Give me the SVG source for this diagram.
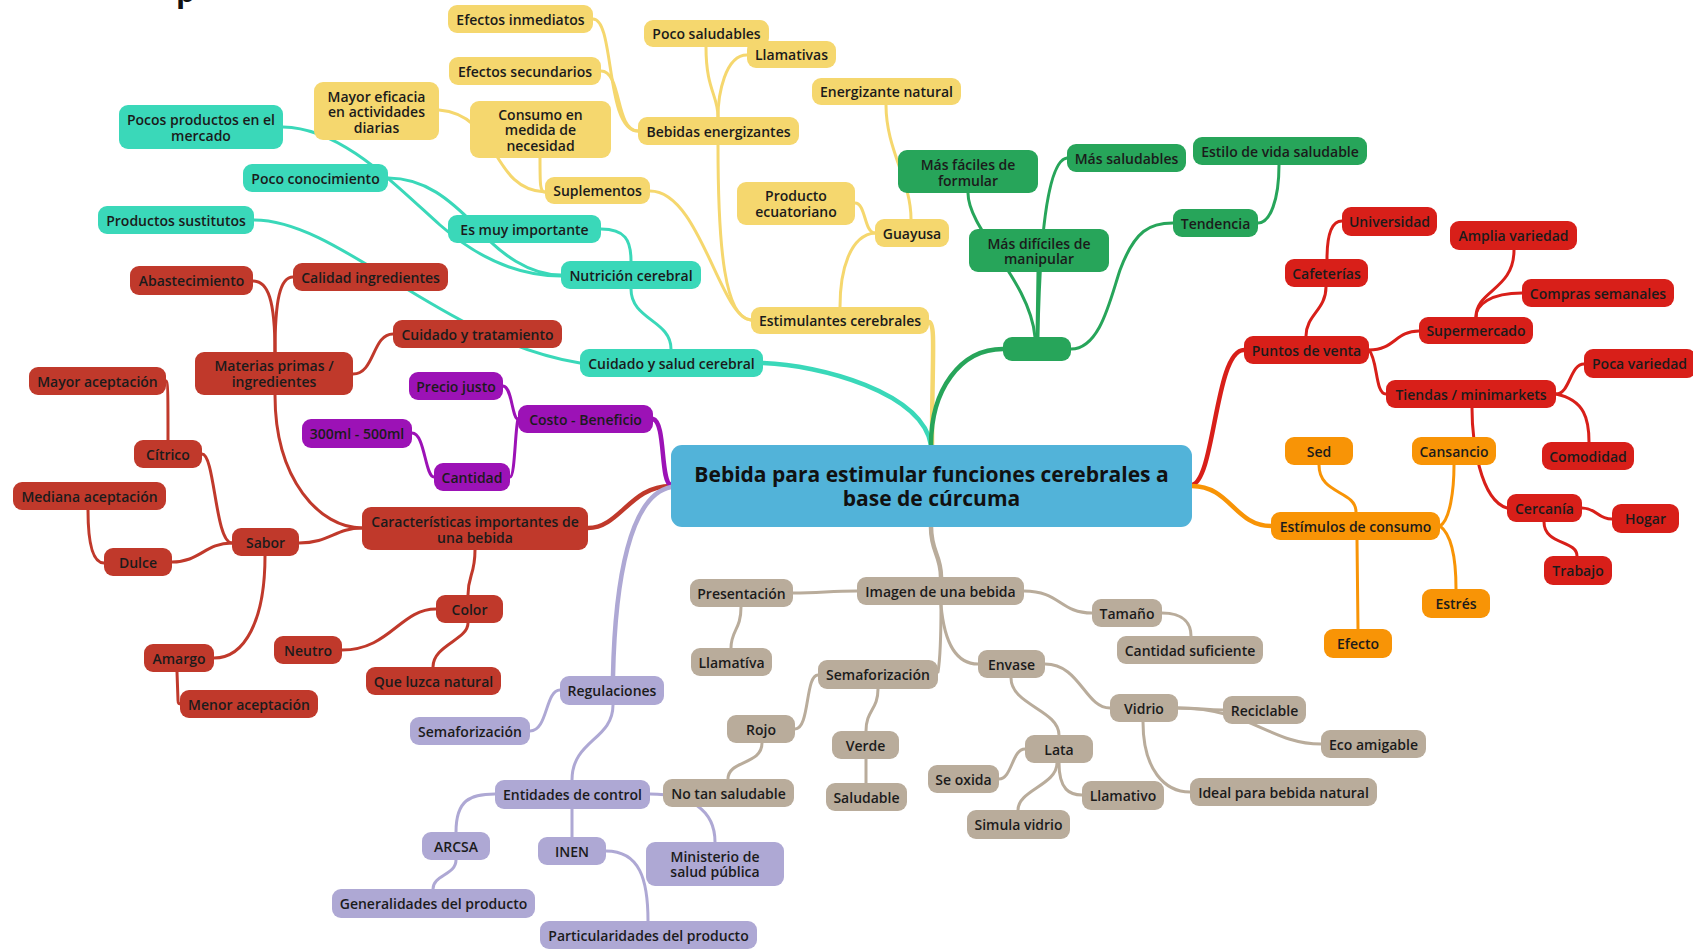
<svg xmlns="http://www.w3.org/2000/svg" width="1693" height="949" viewBox="0 0 1693 949">
<style>
text{font-family:"Open Sans","Noto Sans","DejaVu Sans",sans-serif;font-size:14px;font-weight:600;fill:#1b1b1b;text-anchor:middle;dominant-baseline:central}
rect{rx:9px;ry:9px}
.c path{fill:none;stroke-width:3;stroke-linecap:round}
.c path.m{stroke-width:4.5}
.teal rect{fill:#3ad8b9}.yel rect{fill:#f5d76e}.grn rect{fill:#27a55a}.red rect{fill:#d81f19}.org rect{fill:#f89406}.brn rect{fill:#c0392b}.pur rect{fill:#9c12b6}.lil rect{fill:#aea8d4}.bei rect{fill:#b9ac9b}
.st{stroke:#3ad8b9}.sy{stroke:#f5d76e}.sg{stroke:#27a55a}.sr{stroke:#d81f19}.so{stroke:#f89406}.sb{stroke:#c0392b}.sp{stroke:#9c12b6}.sl{stroke:#aea8d4}.se{stroke:#b9ac9b}
.root rect{fill:#52b3d9;rx:11px;ry:11px}
.root text{font-size:21px;font-weight:700;fill:#111}
.title{font-size:30px;font-weight:700;fill:#111;text-anchor:start;dominant-baseline:auto}
</style>
<rect width="1693" height="949" fill="#ffffff" style="rx:0;ry:0"/>
<text class="title" x="176" y="2">p</text>
<g id="connectors" class="c">
<path class="m sy" d="M929,322 C936,322 932,360 932,445"/>
<path class="m st" d="M763,363 C820,365 922,392 931,445"/>
<path class="m sg" d="M931,445 C931,390 960,349 1003,349"/>
<path class="m sr" d="M1192,485 C1215,480 1215,350 1244,350"/>
<path class="m so" d="M1192,486 C1230,486 1235,526 1271,526"/>
<path class="m se" d="M931,527 C931,552 941,555 941,577"/>
<path class="m sb" d="M671,486 C630,486 620,528 588,528"/>
<path class="m sp" d="M653,419 C666,422 660,483 671,485"/>
<path class="m sl" d="M671,487 C630,495 615,580 613,676"/>
<path class="sy" d="M650,191 C700,191 720,318 751,320"/>
<path class="sy" d="M718,145 C718,250 725,318 751,320"/>
<path class="sy" d="M875,233 C850,235 840,270 840,307"/>
<path class="sy" d="M886,105 C886,150 911,180 911,219"/>
<path class="sy" d="M855,203 C866,203 864,233 875,233"/>
<path class="sy" d="M593,19 C615,19 605,131 638,131"/>
<path class="sy" d="M601,71 C622,71 615,131 638,131"/>
<path class="sy" d="M706,47 C706,90 718,95 718,117"/>
<path class="sy" d="M747,55 C725,55 718,95 718,117"/>
<path class="sy" d="M439,110 C500,115 490,190 545,192"/>
<path class="sy" d="M540,158 C540,185 540,192 545,192"/>
<path class="st" d="M631,289 C631,320 671,320 671,349"/>
<path class="st" d="M254,220 C340,220 440,340 580,363"/>
<path class="st" d="M601,229 C625,229 631,240 631,261"/>
<path class="st" d="M283,127 C340,128 390,180 440,225 C480,260 520,276 561,276"/>
<path class="st" d="M388,178 C425,178 450,200 475,225 C500,255 530,275 561,275"/>
<path class="sb" d="M275,395 C275,480 320,528 362,528"/>
<path class="sb" d="M299,543 C330,543 335,528 362,528"/>
<path class="sb" d="M475,550 C475,575 468,575 468,595"/>
<path class="sb" d="M253,281 C268,281 275,300 275,352"/>
<path class="sb" d="M293,277 C280,277 275,300 275,352"/>
<path class="sb" d="M353,374 C375,374 372,334 393,334"/>
<path class="sb" d="M202,454 C215,454 215,543 232,543"/>
<path class="sb" d="M172,562 C200,562 205,543 232,543"/>
<path class="sb" d="M265,556 C265,620 245,658 214,658"/>
<path class="sb" d="M166,381 C168,381 168,400 168,440"/>
<path class="sb" d="M88,510 C88,550 95,563 104,563"/>
<path class="sb" d="M177,672 L178,700 C178,704 179,704 182,704"/>
<path class="sb" d="M342,650 C390,650 400,609 436,609"/>
<path class="sb" d="M433,667 C433,645 468,640 468,623"/>
<path class="sp" d="M503,386 C512,386 512,419 518,419"/>
<path class="sp" d="M510,477 C515,477 515,430 518,419"/>
<path class="sp" d="M412,433 C425,433 425,477 434,477"/>
<path class="sl" d="M530,731 C548,731 545,690 560,690"/>
<path class="sl" d="M572,780 C572,740 613,740 613,705"/>
<path class="sl" d="M456,832 C456,800 470,794 495,794"/>
<path class="sl" d="M572,837 L572,809"/>
<path class="sl" d="M650,794 C690,794 715,810 715,842"/>
<path class="sl" d="M456,860 C456,875 433,875 433,889"/>
<path class="sl" d="M606,851 C640,851 648,880 648,921"/>
<path class="se" d="M793,593 C820,593 830,591 857,591"/>
<path class="se" d="M1024,591 C1060,591 1060,613 1092,613"/>
<path class="se" d="M941,605 C941,640 940,660 938,672"/>
<path class="se" d="M941,605 C945,650 960,664 978,664"/>
<path class="se" d="M741,607 C741,630 731,630 731,648"/>
<path class="se" d="M1162,613 C1185,613 1191,625 1191,636"/>
<path class="se" d="M795,729 C810,729 805,675 818,675"/>
<path class="se" d="M878,689 C878,710 866,710 866,731"/>
<path class="se" d="M866,759 L866,783"/>
<path class="se" d="M762,743 C762,765 728,760 728,779"/>
<path class="se" d="M1011,678 C1011,705 1059,710 1059,735"/>
<path class="se" d="M1045,664 C1080,664 1085,708 1110,708"/>
<path class="se" d="M999,779 C1012,779 1012,749 1025,749"/>
<path class="se" d="M1059,763 C1059,790 1070,795 1082,795"/>
<path class="se" d="M1057,763 C1057,785 1018,790 1018,810"/>
<path class="se" d="M1178,708 C1200,708 1205,710 1223,710"/>
<path class="se" d="M1178,708 C1250,708 1270,744 1321,744"/>
<path class="se" d="M1143,722 C1143,770 1165,792 1190,792"/>
<path class="sg" d="M1038,272 L1037,337"/>
<path class="sg" d="M968,193 C968,230 1030,280 1035,337"/>
<path class="sg" d="M1067,158 C1050,160 1040,220 1038,337"/>
<path class="sg" d="M1071,349 C1100,349 1110,300 1120,270 C1135,230 1150,223 1173,223"/>
<path class="sg" d="M1279,165 C1279,200 1270,223 1258,223"/>
<path class="sr" d="M1326,287 C1326,310 1306,315 1306,336"/>
<path class="sr" d="M1369,350 C1395,350 1395,331 1419,331"/>
<path class="sr" d="M1369,350 C1378,360 1375,394 1386,394"/>
<path class="sr" d="M1342,221 C1330,221 1327,240 1327,259"/>
<path class="sr" d="M1514,250 C1514,290 1476,290 1476,317"/>
<path class="sr" d="M1522,293 C1490,293 1476,305 1476,317"/>
<path class="sr" d="M1556,394 C1570,394 1570,364 1584,364"/>
<path class="sr" d="M1556,394 C1585,400 1589,420 1589,442"/>
<path class="sr" d="M1472,408 C1472,440 1480,500 1507,508"/>
<path class="sr" d="M1582,508 C1597,508 1597,519 1612,519"/>
<path class="sr" d="M1544,522 C1544,545 1577,540 1577,556"/>
<path class="so" d="M1319,465 C1319,495 1356,490 1356,512"/>
<path class="so" d="M1440,526 C1450,520 1454,490 1454,465"/>
<path class="so" d="M1440,526 C1452,535 1456,560 1456,589"/>
<path class="so" d="M1357,540 L1358,629"/>
</g>

<g id="root" class="root"><rect x="671" y="445" width="521" height="82"/><text x="931.5" y="474">Bebida para estimular funciones cerebrales a</text><text x="931.5" y="498">base de cúrcuma</text></g>

<g id="n_pocos" class="teal"><rect x="119" y="105" width="164" height="44"/><text x="201" y="119">Pocos productos en el</text><text x="201" y="135">mercado</text></g>
<g id="n_pococon" class="teal"><rect x="243" y="164" width="145" height="28"/><text x="315.5" y="178">Poco conocimiento</text></g>
<g id="n_sustitutos" class="teal"><rect x="98" y="206" width="156" height="28"/><text x="176" y="220">Productos sustitutos</text></g>
<g id="n_esmuy" class="teal"><rect x="448" y="215" width="153" height="28"/><text x="524.5" y="229">Es muy importante</text></g>
<g id="n_nutricion" class="teal"><rect x="561" y="261" width="140" height="28"/><text x="631" y="275">Nutrición cerebral</text></g>
<g id="n_cuidadosalud" class="teal"><rect x="580" y="349" width="183" height="28"/><text x="671.5" y="363">Cuidado y salud cerebral</text></g>

<g id="n_mayor" class="yel"><rect x="314" y="82" width="125" height="58"/><text x="376.5" y="96">Mayor eficacia</text><text x="376.5" y="111.5">en actividades</text><text x="376.5" y="127">diarias</text></g>
<g id="n_efinm" class="yel"><rect x="448" y="5" width="145" height="28"/><text x="520.5" y="19">Efectos inmediatos</text></g>
<g id="n_pocosal" class="yel"><rect x="644" y="20" width="125" height="27"/><text x="706.5" y="33.5">Poco saludables</text></g>
<g id="n_llamativas" class="yel"><rect x="747" y="41" width="89" height="27"/><text x="791.5" y="54.5">Llamativas</text></g>
<g id="n_efsec" class="yel"><rect x="449" y="57" width="152" height="28"/><text x="525" y="71">Efectos secundarios</text></g>
<g id="n_consumo" class="yel"><rect x="470" y="101" width="141" height="57"/><text x="540.5" y="114">Consumo en</text><text x="540.5" y="129.5">medida de</text><text x="540.5" y="145">necesidad</text></g>
<g id="n_bebidas" class="yel"><rect x="638" y="117" width="161" height="28"/><text x="718.5" y="131">Bebidas energizantes</text></g>
<g id="n_energ" class="yel"><rect x="812" y="78" width="149" height="27"/><text x="886.5" y="91.5">Energizante natural</text></g>
<g id="n_suplementos" class="yel"><rect x="545" y="177" width="105" height="27"/><text x="597.5" y="190.5">Suplementos</text></g>
<g id="n_producto" class="yel"><rect x="737" y="182" width="118" height="43"/><text x="796" y="195.5">Producto</text><text x="796" y="211">ecuatoriano</text></g>
<g id="n_guayusa" class="yel"><rect x="875" y="219" width="74" height="28"/><text x="912" y="233">Guayusa</text></g>
<g id="n_estimulantes" class="yel"><rect x="751" y="307" width="178" height="27"/><text x="840" y="320.5">Estimulantes cerebrales</text></g>

<g id="n_faciles" class="grn"><rect x="898" y="150" width="140" height="43"/><text x="968" y="164">Más fáciles de</text><text x="968" y="180">formular</text></g>
<g id="n_massal" class="grn"><rect x="1067" y="144" width="119" height="28"/><text x="1126.5" y="158">Más saludables</text></g>
<g id="n_estilo" class="grn"><rect x="1193" y="137" width="174" height="28"/><text x="1280" y="151">Estilo de vida saludable</text></g>
<g id="n_dificiles" class="grn"><rect x="969" y="229" width="140" height="43"/><text x="1039" y="243">Más difíciles de</text><text x="1039" y="258.5">manipular</text></g>
<g id="n_tendencia" class="grn"><rect x="1173" y="209" width="85" height="28"/><text x="1215.5" y="223">Tendencia</text></g>
<g id="n_green" class="grn"><rect x="1003" y="337" width="68" height="24"/></g>

<g id="n_universidad" class="red"><rect x="1342" y="207" width="95" height="29"/><text x="1389.5" y="221.5">Universidad</text></g>
<g id="n_amplia" class="red"><rect x="1450" y="221" width="127" height="29"/><text x="1513.5" y="235.5">Amplia variedad</text></g>
<g id="n_cafeterias" class="red"><rect x="1285" y="259" width="83" height="28"/><text x="1326.5" y="273">Cafeterías</text></g>
<g id="n_compras" class="red"><rect x="1522" y="279" width="152" height="28"/><text x="1598" y="293">Compras semanales</text></g>
<g id="n_super" class="red"><rect x="1419" y="317" width="114" height="27"/><text x="1476" y="330.5">Supermercado</text></g>
<g id="n_puntos" class="red"><rect x="1244" y="336" width="125" height="28"/><text x="1306.5" y="350">Puntos de venta</text></g>
<g id="n_tiendas" class="red"><rect x="1386" y="380" width="170" height="28"/><text x="1471" y="394">Tiendas / minimarkets</text></g>
<g id="n_pocavar" class="red"><rect x="1584" y="349" width="112" height="29"/><text x="1639.5" y="363.5">Poca variedad</text></g>
<g id="n_comodidad" class="red"><rect x="1542" y="442" width="92" height="28"/><text x="1588" y="456">Comodidad</text></g>
<g id="n_cercania" class="red"><rect x="1507" y="494" width="75" height="28"/><text x="1544.5" y="508">Cercanía</text></g>
<g id="n_hogar" class="red"><rect x="1612" y="504" width="67" height="29"/><text x="1645.5" y="518.5">Hogar</text></g>
<g id="n_trabajo" class="red"><rect x="1544" y="556" width="68" height="29"/><text x="1578" y="570.5">Trabajo</text></g>

<g id="n_sed" class="org"><rect x="1285" y="437" width="68" height="28"/><text x="1319" y="451">Sed</text></g>
<g id="n_cansancio" class="org"><rect x="1412" y="437" width="84" height="28"/><text x="1454" y="451">Cansancio</text></g>
<g id="n_estimulos" class="org"><rect x="1271" y="512" width="169" height="28"/><text x="1355.5" y="526">Estímulos de consumo</text></g>
<g id="n_estres" class="org"><rect x="1422" y="589" width="68" height="29"/><text x="1456" y="603.5">Estrés</text></g>
<g id="n_efecto" class="org"><rect x="1324" y="629" width="68" height="29"/><text x="1358" y="643.5">Efecto</text></g>

<g id="n_abast" class="brn"><rect x="130" y="266" width="123" height="29"/><text x="191.5" y="280.5">Abastecimiento</text></g>
<g id="n_calidad" class="brn"><rect x="293" y="263" width="155" height="28"/><text x="370.5" y="277">Calidad ingredientes</text></g>
<g id="n_materias" class="brn"><rect x="195" y="352" width="158" height="43"/><text x="274" y="365.5">Materias primas /</text><text x="274" y="381">ingredientes</text></g>
<g id="n_cuidadotrat" class="brn"><rect x="393" y="320" width="169" height="28"/><text x="477.5" y="334">Cuidado y tratamiento</text></g>
<g id="n_mayoracep" class="brn"><rect x="29" y="367" width="137" height="28"/><text x="97.5" y="381">Mayor aceptación</text></g>
<g id="n_citrico" class="brn"><rect x="134" y="440" width="68" height="28"/><text x="168" y="454">Cítrico</text></g>
<g id="n_mediana" class="brn"><rect x="13" y="482" width="153" height="28"/><text x="89.5" y="496">Mediana aceptación</text></g>
<g id="n_caract" class="brn"><rect x="362" y="507" width="226" height="43"/><text x="475" y="521">Características importantes de</text><text x="475" y="537">una bebida</text></g>
<g id="n_sabor" class="brn"><rect x="232" y="528" width="67" height="28"/><text x="265.5" y="542">Sabor</text></g>
<g id="n_dulce" class="brn"><rect x="104" y="548" width="68" height="28"/><text x="138" y="562">Dulce</text></g>
<g id="n_color" class="brn"><rect x="436" y="595" width="67" height="28"/><text x="469.5" y="609">Color</text></g>
<g id="n_amargo" class="brn"><rect x="144" y="644" width="70" height="28"/><text x="179" y="658">Amargo</text></g>
<g id="n_neutro" class="brn"><rect x="274" y="636" width="68" height="28"/><text x="308" y="650">Neutro</text></g>
<g id="n_menor" class="brn"><rect x="180" y="690" width="138" height="28"/><text x="249" y="704">Menor aceptación</text></g>
<g id="n_queluzca" class="brn"><rect x="366" y="667" width="135" height="28"/><text x="433.5" y="681">Que luzca natural</text></g>

<g id="n_precio" class="pur"><rect x="409" y="372" width="94" height="28"/><text x="456" y="386">Precio justo</text></g>
<g id="n_300" class="pur"><rect x="302" y="419" width="110" height="29"/><text x="357" y="433.5">300ml - 500ml</text></g>
<g id="n_costo" class="pur"><rect x="518" y="405" width="135" height="28"/><text x="585.5" y="419">Costo - Beneficio</text></g>
<g id="n_cantidad" class="pur"><rect x="434" y="463" width="76" height="28"/><text x="472" y="477">Cantidad</text></g>

<g id="n_regul" class="lil"><rect x="560" y="676" width="104" height="29"/><text x="612" y="690.5">Regulaciones</text></g>
<g id="n_semaf1" class="lil"><rect x="410" y="717" width="120" height="28"/><text x="470" y="731">Semaforización</text></g>
<g id="n_entidades" class="lil"><rect x="495" y="780" width="155" height="29"/><text x="572.5" y="794.5">Entidades de control</text></g>
<g id="n_arcsa" class="lil"><rect x="422" y="832" width="68" height="28"/><text x="456" y="846">ARCSA</text></g>
<g id="n_inen" class="lil"><rect x="538" y="837" width="68" height="28"/><text x="572" y="851">INEN</text></g>
<g id="n_ministerio" class="lil"><rect x="646" y="842" width="138" height="44"/><text x="715" y="856">Ministerio de</text><text x="715" y="871.5">salud pública</text></g>
<g id="n_general" class="lil"><rect x="332" y="889" width="203" height="29"/><text x="433.5" y="903.5">Generalidades del producto</text></g>
<g id="n_particular" class="lil"><rect x="540" y="921" width="217" height="28"/><text x="648.5" y="935">Particularidades del producto</text></g>

<g id="n_present" class="bei"><rect x="690" y="579" width="103" height="28"/><text x="741.5" y="593">Presentación</text></g>
<g id="n_imagen" class="bei"><rect x="857" y="577" width="167" height="28"/><text x="940.5" y="591">Imagen de una bebida</text></g>
<g id="n_tamano" class="bei"><rect x="1092" y="599" width="70" height="28"/><text x="1127" y="613">Tamaño</text></g>
<g id="n_llamativa" class="bei"><rect x="691" y="648" width="81" height="28"/><text x="731.5" y="662">Llamatíva</text></g>
<g id="n_semaf2" class="bei"><rect x="818" y="660" width="120" height="29"/><text x="878" y="674.5">Semaforización</text></g>
<g id="n_envase" class="bei"><rect x="978" y="650" width="67" height="28"/><text x="1011.5" y="664">Envase</text></g>
<g id="n_cantsuf" class="bei"><rect x="1117" y="636" width="146" height="28"/><text x="1190" y="650">Cantidad suficiente</text></g>
<g id="n_rojo" class="bei"><rect x="727" y="715" width="68" height="28"/><text x="761" y="729">Rojo</text></g>
<g id="n_vidrio" class="bei"><rect x="1110" y="694" width="68" height="28"/><text x="1144" y="708">Vidrio</text></g>
<g id="n_reciclable" class="bei"><rect x="1223" y="696" width="83" height="28"/><text x="1264.5" y="710">Reciclable</text></g>
<g id="n_verde" class="bei"><rect x="832" y="731" width="67" height="28"/><text x="865.5" y="745">Verde</text></g>
<g id="n_lata" class="bei"><rect x="1025" y="735" width="68" height="28"/><text x="1059" y="749">Lata</text></g>
<g id="n_eco" class="bei"><rect x="1321" y="730" width="105" height="28"/><text x="1373.5" y="744">Eco amigable</text></g>
<g id="n_seoxida" class="bei"><rect x="928" y="765" width="71" height="28"/><text x="963.5" y="779">Se oxida</text></g>
<g id="n_notan" class="bei"><rect x="663" y="779" width="131" height="28"/><text x="728.5" y="793">No tan saludable</text></g>
<g id="n_ideal" class="bei"><rect x="1190" y="778" width="187" height="28"/><text x="1283.5" y="792">Ideal para bebida natural</text></g>
<g id="n_llamativo" class="bei"><rect x="1082" y="781" width="82" height="29"/><text x="1123" y="795.5">Llamativo</text></g>
<g id="n_saludable" class="bei"><rect x="826" y="783" width="81" height="28"/><text x="866.5" y="797">Saludable</text></g>
<g id="n_simula" class="bei"><rect x="967" y="810" width="103" height="29"/><text x="1018.5" y="824.5">Simula vidrio</text></g>
</svg>
